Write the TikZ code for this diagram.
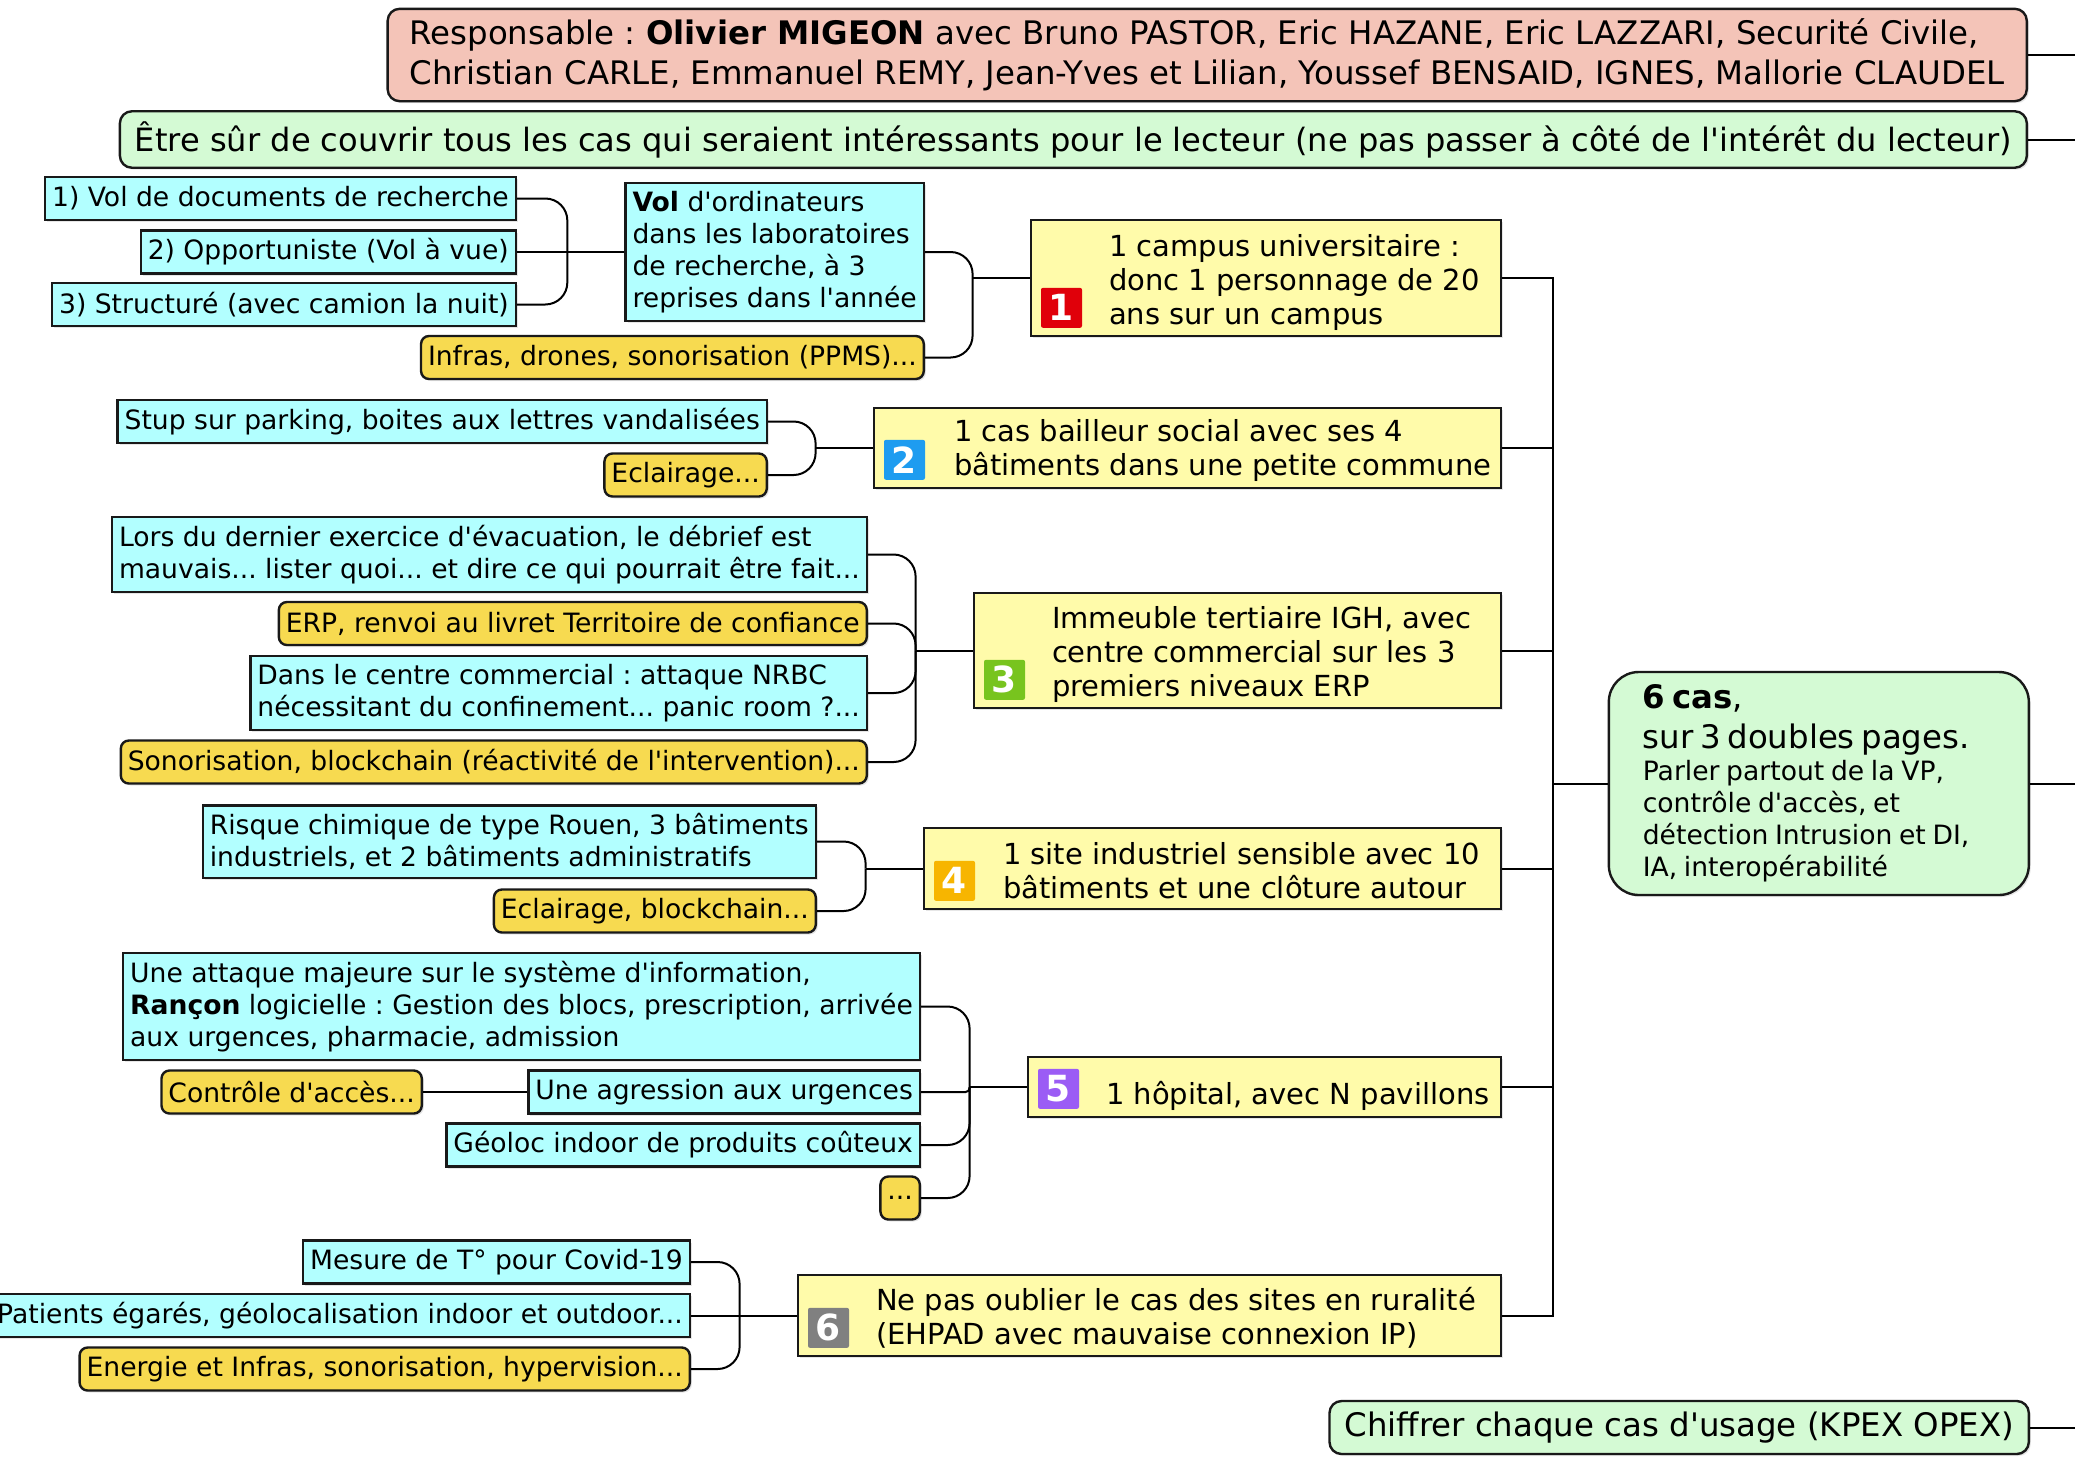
\documentclass[tikz,border=0pt]{standalone}
\usepackage{fontspec}
\setmainfont{DejaVu Sans}[Ligatures=TeXOff]
\usepackage{xcolor}
\usetikzlibrary{calc, shadows}
\frenchspacing

\definecolor{respfill}{HTML}{F4C4B8}
\definecolor{notefill}{HTML}{D4FAD4}
\definecolor{leaffill}{HTML}{B2FFFF}
\definecolor{casefill}{HTML}{FFFBAA}
\definecolor{taskfill}{HTML}{F7DA50}
\definecolor{icored}{HTML}{E0000A}
\definecolor{icoblue}{HTML}{1E9CF0}
\definecolor{icogreen}{HTML}{78C41E}
\definecolor{icoorange}{HTML}{F7B500}
\definecolor{icopurple}{HTML}{9B5CF5}
\definecolor{icogrey}{HTML}{808080}

\newcommand{\leafsize}{\fontsize{13.3}{16}\selectfont}
\newcommand{\casesize}{\fontsize{14.5}{17}\selectfont}
\newcommand{\mainsize}{\fontsize{16.2}{20}\selectfont}

\tikzset{
  box/.style={draw=black!90, line width=1.2pt, align=left,
    drop shadow={shadow xshift=1pt, shadow yshift=-1pt, opacity=0.2}},
  leaf/.style={box, fill=leaffill, font=\leafsize, inner xsep=3.5pt, inner ysep=4pt,
    minimum height=21.5pt, anchor=east},
  task/.style={leaf, fill=taskfill, rounded corners=4pt},
  casebox/.style={box, fill=casefill, anchor=east},
  casetext/.style={font=\casesize, align=left, inner sep=0pt, anchor=west},
  badge/.style={fill=#1, text=white, font=\fontsize{18}{18}\selectfont\bfseries,
    minimum width=20.5pt, minimum height=20pt, inner sep=0pt, rounded corners=1pt,
    anchor=south west},
  note/.style={box, fill=notefill, rounded corners=6pt, font=\mainsize,
    inner xsep=7.5pt, inner ysep=5pt, minimum height=26.5pt, anchor=east},
  link/.style={line width=1pt, black},
  bracket/.style={link, rounded corners=11pt},
}

\begin{document}
\begin{tikzpicture}[x=0.5pt, y=-0.5pt]
\useasboundingbox (0,0) rectangle (2075,1457);

% Top notes
\node[note, fill=respfill, inner xsep=11pt] (resp) at (2028,55)
  {Responsable : \textbf{Olivier MIGEON} avec Bruno PASTOR, Eric HAZANE, Eric LAZZARI, Securité Civile,\\
   Christian CARLE, Emmanuel REMY, Jean-Yves et Lilian, Youssef BENSAID, IGNES, Mallorie CLAUDEL};
\node[note, font=\fontsize{16.05}{20}\selectfont] (goal) at (2028,139.5)
  {Être sûr de couvrir tous les cas qui seraient intéressants pour le lecteur (ne pas passer à côté de l'intérêt du lecteur)};
\node[note] (cost) at (2030,1427.5) {Chiffrer chaque cas d'usage (KPEX OPEX)};

% Central topic
\node[box, fill=notefill, rounded corners=15pt, anchor=east, minimum width=210pt,
  minimum height=111.5pt, text width=176pt, inner xsep=17pt] (center) at (2030,783.5)
  {{\mainsize\textbf{6 cas},\\sur 3 doubles pages.\par}%
   {\leafsize Parler partout de la VP,\\contrôle d'accès, et\\détection Intrusion et DI,\\IA, interopérabilité\par}};

% The six cases
\node[casebox, minimum width=235pt, minimum height=58pt] (case1) at (1502,278) {};
\node[casebox, minimum width=313.5pt, minimum height=40pt] (case2) at (1502,448) {};
\node[casebox, minimum width=263.5pt, minimum height=57.5pt] (case3) at (1502,650.5) {};
\node[casebox, minimum width=288.5pt, minimum height=40.5pt] (case4) at (1502,868.5) {};
\node[casebox, minimum width=236.5pt, minimum height=30pt] (case5) at (1502,1087) {};
\node[casebox, minimum width=351.5pt, minimum height=40.5pt] (case6) at (1502,1315.5) {};

\foreach \n/\c in {1/icored, 2/icoblue, 3/icogreen, 4/icoorange, 5/icopurple, 6/icogrey}
  \node[badge=\c] (badge\n) at ($(case\n.south west)+(11,-9)$) {\n};

\node[casetext] (title1) at ($(case1.west)+(79,4)$)
  {1 campus universitaire :\\donc 1 personnage de 20\\ans sur un campus};
\node[casetext] (title2) at ($(case2.west)+(81,2)$)
  {1 cas bailleur social avec ses 4\\bâtiments dans une petite commune};
\node[casetext] (title3) at ($(case3.west)+(79,4)$)
  {Immeuble tertiaire IGH, avec\\centre commercial sur les 3\\premiers niveaux ERP};
\node[casetext] (title4) at ($(case4.west)+(80,2)$)
  {1 site industriel sensible avec 10\\bâtiments et une clôture autour};
\node[casetext] (title5) at ($(case5.west)+(79,9)$) {1 hôpital, avec N pavillons};
\node[casetext] (title6) at ($(case6.west)+(79,2)$)
  {Ne pas oublier le cas des sites en ruralité\\(EHPAD avec mauvaise connexion IP)};

% Case 1 details
\node[leaf] (volpc) at (925,252)
  {\textbf{Vol} d'ordinateurs\\dans les laboratoires\\de recherche, à 3\\reprises dans l'année};
\node[task] (infra) at (925,357.5) {Infras, drones, sonorisation (PPMS)...};
\node[leaf] (vol1) at (517,198.5) {1) Vol de documents de recherche};
\node[leaf] (vol2) at (517,252) {2) Opportuniste (Vol à vue)};
\node[leaf] (vol3) at (517,304.5) {3) Structuré (avec camion la nuit)};

% Case 2 details
\node[leaf] (stup) at (768,421.5) {Stup sur parking, boites aux lettres vandalisées};
\node[task] (light2) at (768,475) {Eclairage...};

% Case 3 details
\node[leaf] (drill) at (868,554.5)
  {Lors du dernier exercice d'évacuation, le débrief est\\mauvais... lister quoi... et dire ce qui pourrait être fait...};
\node[task] (erp) at (868,623.5) {ERP, renvoi au livret Territoire de confiance};
\node[leaf] (nrbc) at (868,693)
  {Dans le centre commercial : attaque NRBC\\nécessitant du confinement... panic room ?...};
\node[task] (sound3) at (868,762) {Sonorisation, blockchain (réactivité de l'intervention)...};

% Case 4 details
\node[leaf] (chem) at (817,841.5)
  {Risque chimique de type Rouen, 3 bâtiments\\industriels, et 2 bâtiments administratifs};
\node[task] (light4) at (817,911) {Eclairage, blockchain...};

% Case 5 details
\node[leaf] (ransom) at (921,1006.5)
  {Une attaque majeure sur le système d'information,\\\textbf{Rançon} logicielle : Gestion des blocs, prescription, arrivée\\aux urgences, pharmacie, admission};
\node[leaf] (assault) at (921,1092) {Une agression aux urgences};
\node[task] (access) at (423,1092) {Contrôle d'accès...};
\node[leaf] (geoloc) at (921,1145) {Géoloc indoor de produits coûteux};
\node[task] (more) at (921,1198) {...};

% Case 6 details
\node[leaf] (fever) at (691,1262) {Mesure de T° pour Covid-19};
\node[leaf] (lost) at (691,1315.5) {Patients égarés, géolocalisation indoor et outdoor...};
\node[task] (energy) at (691,1369) {Energie et Infras, sonorisation, hypervision...};

% Trunk to the central topic
\coordinate (hub) at ($(center.west)+(-55,0)$);
\draw[link] (center.west) -- (hub);
\foreach \n in {1,...,6}
  \draw[link] (case\n.east) -| (hub);

% Brackets from each case to its details
\foreach \n in {1,...,6} {
  \coordinate (j\n) at ($(case\n.west)+(-57,0)$);
  \draw[link] (case\n.west) -- (j\n);
}
\coordinate (jvol) at ($(volpc.west)+(-57,0)$);
\draw[link] (volpc.west) -- (jvol);
\draw[link] (vol2.east) -- (jvol);
\foreach \n in {vol1, vol3} \draw[bracket] (\n.east) -| (jvol);
\foreach \n in {volpc, infra} \draw[bracket] (\n.east) -| (j1);
\foreach \n in {stup, light2} \draw[bracket] (\n.east) -| (j2);
\foreach \n in {drill, erp, nrbc, sound3} \draw[bracket] (\n.east) -| (j3);
\foreach \n in {chem, light4} \draw[bracket] (\n.east) -| (j4);
\foreach \n in {ransom, geoloc, more} \draw[bracket] (\n.east) -| (j5);
\draw[link, rounded corners=2pt] (assault.east) -| (j5);
\draw[link] (assault.west) -- (access.east);
\foreach \n in {fever, energy} \draw[bracket] (\n.east) -| (j6);
\draw[link] (lost.east) -- (j6);

% Links leaving towards the root
\coordinate (rim) at (2075,0);
\foreach \n in {resp, goal, center, cost}
  \draw[link] (\n.east) -- (\n.east -| rim);
\end{tikzpicture}
\end{document}
